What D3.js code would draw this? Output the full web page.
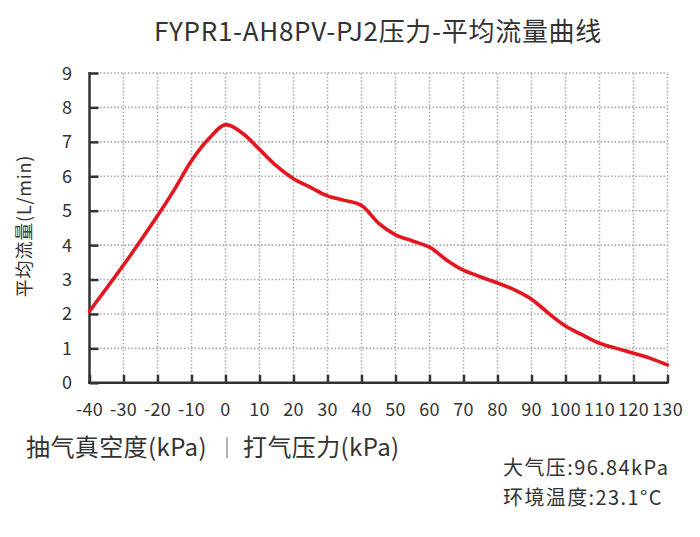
<!DOCTYPE html>
<html>
<head>
<meta charset="utf-8">
<script src="https://cdn.jsdelivr.net/npm/d3@7/dist/d3.min.js"></script>
<style>
  html, body { margin: 0; padding: 0; background: #fff; }
  svg { display: block; }
  text { font-family: "Noto Sans CJK SC", "Noto Sans", sans-serif; fill: #333; }
</style>
</head>
<body>
<svg id="chart" width="700" height="537"></svg>
<script>
const titleText = "FYPR1-AH8PV-PJ2压力-平均流量曲线";
const yLabel = "平均流量(L/min)";
const xLabelLeft = "抽气真空度(kPa)";
const xLabelRight = "打气压力(kPa)";
const infoLines = ["大气压:96.84kPa", "环境温度:23.1°C"];

const xTicks = [-40,-30,-20,-10,0,10,20,30,40,50,60,70,80,90,100,110,120,130];
const yTicks = [0,1,2,3,4,5,6,7,8,9];

const pressure = [-40,-30,-20,-15,-10,-5,0,5,10,15,20,25,30,35,40,45,50,55,60,65,70,80,85,90,95,100,105,110,115,120,125,130];
const flow     = [2.08,3.42,4.85,5.62,6.45,7.08,7.5,7.25,6.78,6.3,5.93,5.68,5.43,5.3,5.15,4.64,4.3,4.12,3.94,3.57,3.27,2.9,2.7,2.43,2.02,1.65,1.39,1.15,1.0,0.86,0.71,0.52];

const svg = d3.select("#chart");
const x = d3.scaleLinear().domain([-40,130]).range([89.5,667.5]);
const y = d3.scaleLinear().domain([0,9]).range([382.8,73]);

// grid
const grid = svg.append("g").attr("stroke","#aaa").attr("stroke-width",1.6).attr("stroke-dasharray","1.6,1.9");
grid.selectAll("line.h").data(yTicks.filter(d=>d>0)).join("line")
  .attr("x1",x(-40)).attr("x2",x(130)).attr("y1",d=>y(d)).attr("y2",d=>y(d));
grid.selectAll("line.v").data(xTicks.filter(d=>d>-40)).join("line")
  .attr("y1",y(0)).attr("y2",y(9)).attr("x1",d=>x(d)).attr("x2",d=>x(d));

// axes
const yAxis = d3.axisRight(y).tickValues(yTicks).tickSize(9).tickFormat("");
const gy = svg.append("g").attr("transform",`translate(${x(-40)},0)`).call(yAxis);
gy.select(".domain").remove();
gy.selectAll(".tick line").attr("stroke","#333").attr("stroke-width",2.5);

const xAxis = d3.axisTop(x).tickValues(xTicks).tickSize(8).tickFormat("");
const gx = svg.append("g").attr("transform",`translate(0,${y(0)})`).call(xAxis);
gx.select(".domain").remove();
gx.selectAll(".tick line").attr("stroke","#333").attr("stroke-width",2.5);

svg.append("line").attr("x1",x(-40)).attr("x2",x(-40)).attr("y1",y(9)-1).attr("y2",y(0)+1.2)
  .attr("stroke","#333").attr("stroke-width",2.5);
svg.append("line").attr("x1",x(-40)-1.2).attr("x2",x(130)+1).attr("y1",y(0)).attr("y2",y(0))
  .attr("stroke","#333").attr("stroke-width",2.5);

// tick labels
svg.append("g").selectAll("text").data(yTicks).join("text")
  .attr("x",72).attr("y",d=>y(d)+6.5).attr("text-anchor","end")
  .attr("font-size",18).text(d=>d);
svg.append("g").selectAll("text").data(xTicks).join("text")
  .attr("x",d=>x(d)).attr("y",416).attr("text-anchor","middle")
  .attr("font-size",18).attr("letter-spacing",0.3).text(d=>d);

// curve
const pts = pressure.map((p,i)=>[p,flow[i]]);
svg.append("path").datum(pts)
  .attr("fill","none").attr("stroke","#e3151e").attr("stroke-width",3.6)
  .attr("stroke-linecap","round").attr("stroke-linejoin","round")
  .attr("d", d3.line().x(d=>x(d[0])).y(d=>y(d[1])).curve(d3.curveCatmullRom.alpha(0.5)));

// title
svg.append("text").attr("x",378).attr("y",41).attr("text-anchor","middle")
  .attr("font-size",26).attr("letter-spacing",0.7).text(titleText);

// y label
svg.append("text").attr("transform","translate(31,226) rotate(-90)")
  .attr("text-anchor","middle").attr("font-size",18).attr("letter-spacing",0.8).text(yLabel);

// bottom labels
svg.append("text").attr("x",26).attr("y",456).attr("font-size",24).attr("letter-spacing",0.4).text(xLabelLeft);
svg.append("line").attr("x1",227).attr("x2",227).attr("y1",437).attr("y2",458)
  .attr("stroke","#666").attr("stroke-width",1);
svg.append("text").attr("x",243).attr("y",456).attr("font-size",24).attr("letter-spacing",0.4).text(xLabelRight);

svg.append("g").selectAll("text").data(infoLines).join("text")
  .attr("x",503).attr("y",(d,i)=>475+i*30).attr("font-size",20).attr("letter-spacing",1.4).text(d=>d);
</script>
</body>
</html>
